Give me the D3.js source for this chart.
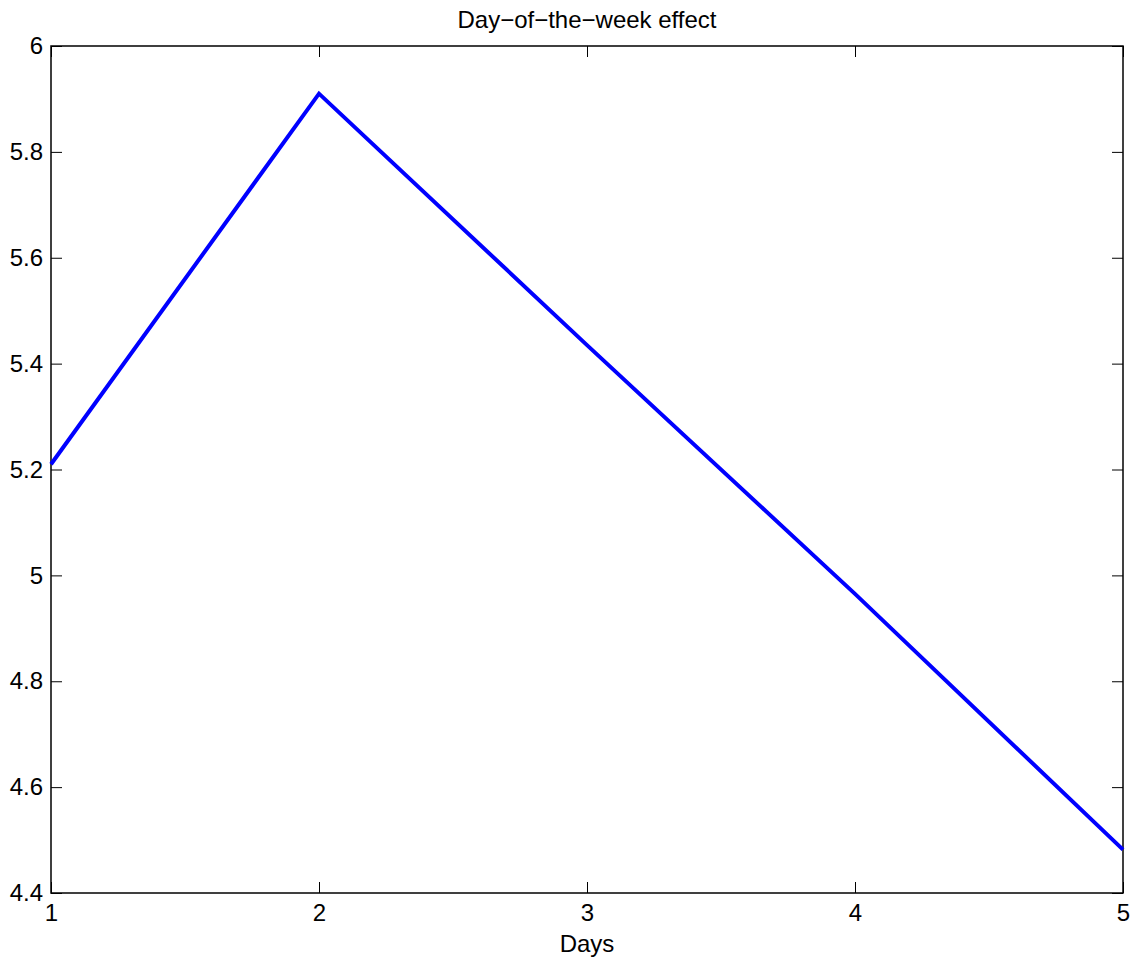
<!DOCTYPE html>
<html>
<head>
<meta charset="utf-8">
<script src="https://cdn.jsdelivr.net/npm/d3@7"></script>
<style>
  body { margin: 0; background: #fff; }
  text { font-family: "Liberation Sans", Arial, Helvetica, sans-serif; fill: #000; }
</style>
</head>
<body>
<div id="chart"></div>
<script>
// data
var days = [1, 2, 3, 4, 5]
var effect = [5.21, 5.91, 5.435, 4.965, 4.482]
var xTicks = [1, 2, 3, 4, 5]
var yTicks = [4.4, 4.6, 4.8, 5, 5.2, 5.4, 5.6, 5.8, 6]

var width = 1137
var height = 964
var margin = {top: 46, right: 14, bottom: 71, left: 51}
var innerW = width - margin.left - margin.right
var innerH = height - margin.top - margin.bottom
var tickLen = 11
var fontSize = '24px'

var svg = d3.select('#chart').append('svg')
    .attr('width', width)
    .attr('height', height)

var g = svg.append('g')
    .attr('transform', 'translate(' + margin.left + ',' + margin.top + ')')

var x = d3.scaleLinear().domain([1, 5]).range([0, innerW])
var y = d3.scaleLinear().domain([4.4, 6]).range([innerH, 0])

// MATLAB style: ticks pointing inward on all four sides
function styleAxis (sel) {
  sel.select('.domain').remove()
  sel.selectAll('line').attr('stroke', '#000').attr('stroke-width', 1)
  sel.selectAll('text').attr('font-size', fontSize).attr('fill', '#000')
}

g.append('g')
    .attr('transform', 'translate(0,' + innerH + ')')
    .call(d3.axisBottom(x).tickValues(xTicks).tickSizeInner(-tickLen).tickSizeOuter(0)
      .tickPadding(11).tickFormat(d3.format('d')))
    .call(styleAxis)

g.append('g')
    .call(d3.axisTop(x).tickValues(xTicks).tickSizeInner(-tickLen).tickSizeOuter(0).tickFormat(''))
    .call(styleAxis)

g.append('g')
    .call(d3.axisLeft(y).tickValues(yTicks).tickSizeInner(-tickLen).tickSizeOuter(0)
      .tickPadding(8).tickFormat(d => d3.format('')(+d.toFixed(1))))
    .call(styleAxis)

g.append('g')
    .attr('transform', 'translate(' + innerW + ',0)')
    .call(d3.axisRight(y).tickValues(yTicks).tickSizeInner(-tickLen).tickSizeOuter(0).tickFormat(''))
    .call(styleAxis)

// box
g.append('rect')
    .attr('width', innerW)
    .attr('height', innerH)
    .attr('fill', 'none')
    .attr('stroke', '#000')
    .attr('stroke-width', 1.5)

var line = d3.line()
    .x((d, i) => x(days[i]))
    .y(d => y(d))

g.append('path')
    .datum(effect)
    .attr('d', line)
    .attr('fill', 'none')
    .attr('stroke', '#0000ff')
    .attr('stroke-width', 4)
    .attr('stroke-linejoin', 'miter')

svg.append('text')
    .attr('x', margin.left + innerW / 2)
    .attr('y', 28)
    .attr('text-anchor', 'middle')
    .attr('font-size', fontSize)
    .text('Day\u2212of\u2212the\u2212week effect')

svg.append('text')
    .attr('x', margin.left + innerW / 2)
    .attr('y', 952)
    .attr('text-anchor', 'middle')
    .attr('font-size', fontSize)
    .text('Days')
</script>
</body>
</html>
